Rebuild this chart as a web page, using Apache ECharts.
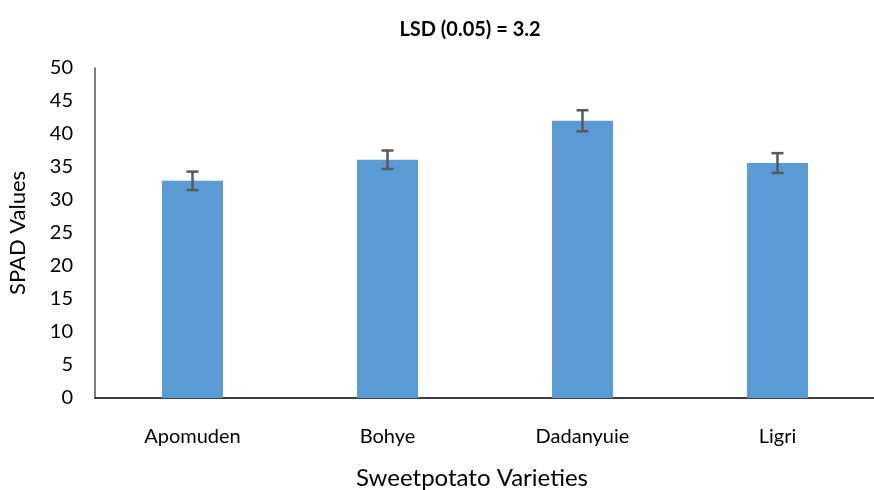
<!DOCTYPE html>
<html>
<head>
<meta charset="utf-8">
<script src="https://cdn.jsdelivr.net/npm/echarts@6/dist/echarts.min.js"></script>
<style>
  html, body { margin: 0; padding: 0; background: #fff; }
  #chart { width: 874px; height: 490px; }
</style>
</head>
<body>
<div id="chart"></div>
<script>
// SPAD readings per sweetpotato variety, with standard error
const varieties = ['Apomuden', 'Bohye', 'Dadanyuie', 'Ligri'];
const spadMeans = [32.9, 36.1, 42.0, 35.6];
const spadErrors = [1.4, 1.4, 1.6, 1.5];
const yTicks = { min: 0, max: 50, interval: 5 };

const FONT = 'Lato, "Open Sans", sans-serif';

const errorData = varieties.map((v, i) => [i, spadMeans[i] - spadErrors[i], spadMeans[i] + spadErrors[i]]);

const chart = echarts.init(document.getElementById('chart'));
chart.setOption({
  animation: false,
  title: {
    text: 'LSD (0.05) = 3.2',
    left: 465, top: 15, textAlign: 'center',
    textStyle: { fontFamily: FONT, fontSize: 20, fontWeight: 'bold', color: '#000' }
  },
  grid: { left: 95, top: 68, width: 780, height: 330, containLabel: false, outerBoundsMode: 'none' },
  xAxis: {
    type: 'category',
    data: varieties,
    name: 'Sweetpotato Varieties',
    nameLocation: 'middle',
    nameGap: 68,
    nameTextStyle: { fontFamily: FONT, fontSize: 24, color: '#000', padding: [0, 26, 0, 0] },
    axisLine: { lineStyle: { color: '#000', width: 1.5 } },
    axisTick: { show: false },
    axisLabel: { fontFamily: FONT, fontSize: 20, color: '#000', margin: 29 }
  },
  yAxis: {
    type: 'value',
    min: yTicks.min, max: yTicks.max, interval: yTicks.interval,
    name: 'SPAD Values',
    nameLocation: 'middle',
    nameGap: 66,
    nameTextStyle: { fontFamily: FONT, fontSize: 22, color: '#000' },
    axisLine: { show: true, lineStyle: { color: '#555', width: 1.5 } },
    axisTick: { show: false },
    splitLine: { show: false },
    axisLabel: { fontFamily: FONT, fontSize: 20, color: '#000', margin: 22 }
  },
  series: [
    {
      type: 'bar',
      data: spadMeans,
      barWidth: 61,
      itemStyle: { color: '#5B9BD5' }
    },
    {
      type: 'custom',
      data: errorData,
      z: 10,
      renderItem: function (params, api) {
        const x = api.value(0);
        const lo = api.coord([x, api.value(1)]);
        const hi = api.coord([x, api.value(2)]);
        const half = 6;
        const style = { stroke: '#595959', lineWidth: 2.5 };
        return {
          type: 'group',
          children: [
            { type: 'line', shape: { x1: lo[0], y1: lo[1], x2: hi[0], y2: hi[1] }, style: style },
            { type: 'line', shape: { x1: lo[0] - half, y1: lo[1], x2: lo[0] + half, y2: lo[1] }, style: style },
            { type: 'line', shape: { x1: hi[0] - half, y1: hi[1], x2: hi[0] + half, y2: hi[1] }, style: style }
          ]
        };
      }
    }
  ]
});
</script>
</body>
</html>
